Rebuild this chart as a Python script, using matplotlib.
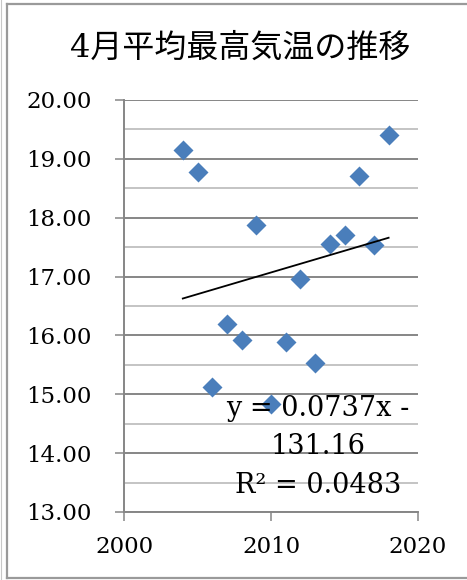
import numpy as np
import matplotlib
matplotlib.use("Agg")
import matplotlib.pyplot as plt
from matplotlib.ticker import MultipleLocator, FormatStrFormatter

# April mean daily maximum temperature by year
years = [2004, 2005, 2006, 2007, 2008, 2009, 2010, 2011, 2012, 2013, 2014, 2015, 2016, 2017, 2018]
temps = [19.15, 18.78, 15.12, 16.19, 15.92, 17.88, 14.831, 15.88, 16.96, 15.53, 17.56, 17.70, 18.71, 17.54, 19.40]
title = "4月平均最高気温の推移"

x = np.array(years, dtype=float)
y = np.array(temps)
slope, icept = np.polyfit(x, y, 1)
yfit = slope * x + icept
r2 = 1 - np.sum((y - yfit) ** 2) / np.sum((y - y.mean()) ** 2)

W, H = 467, 580
fig = plt.figure(figsize=(W / 100, H / 100), dpi=100)
fig.patch.set_facecolor("white")

# chart frame (right side runs off the image)
fig.add_artist(plt.Line2D([6.5 / W, 6.5 / W], [1 - 4 / H, 1 - 578 / H], color="#9a9a9a", lw=1.6))
fig.add_artist(plt.Line2D([6.5 / W, 1.0], [1 - 4 / H, 1 - 4 / H], color="#9a9a9a", lw=1.6))
fig.add_artist(plt.Line2D([6.5 / W, 1.0], [1 - 578 / H, 1 - 578 / H], color="#9a9a9a", lw=1.6))
fig.add_artist(plt.Line2D([1 / W, 1 / W], [0, 1], color="#c8c8c8", lw=0.8))

ax = fig.add_axes([124 / W, 1 - 512 / H, (418 - 124) / W, (512 - 100) / H])
ax.set_xlim(2000, 2020)
ax.set_ylim(13, 20)

serif = "DejaVu Serif"
ax.yaxis.set_major_locator(MultipleLocator(1))
ax.yaxis.set_minor_locator(MultipleLocator(0.5))
ax.yaxis.set_major_formatter(FormatStrFormatter("%.2f"))
ax.xaxis.set_major_locator(MultipleLocator(10))

ax.grid(axis="y", which="major", color="#868686", lw=1.4)
ax.grid(axis="y", which="minor", color="#c4c4c4", lw=1.4)
ax.set_axisbelow(True)

for s in ["top", "right"]:
    ax.spines[s].set_visible(False)
for s in ["left", "bottom"]:
    ax.spines[s].set_color("#868686")
    ax.spines[s].set_linewidth(1.4)

ax.tick_params(axis="y", which="major", direction="out", length=6.5, width=1.4,
               color="#a0a0a0", pad=17, labelsize=16.5)
ax.tick_params(axis="y", which="minor", length=0)
ax.tick_params(axis="x", which="major", direction="out", length=6.5, width=1.4,
               color="#a0a0a0", pad=11, labelsize=16.5)
for lab in ax.get_xticklabels() + ax.get_yticklabels():
    lab.set_fontfamily(serif)

ax.plot(x, y, linestyle="none", marker="D", ms=10.5, color="#4a7ebb", mec="none", zorder=3)
ax.plot([x.min(), x.max()], [slope * x.min() + icept, slope * x.max() + icept],
        color="black", lw=1.3, zorder=4)

sign = "-" if icept < 0 else "+"
eq = "y = %.4fx %s\n%.2f\nR² = %.4f" % (slope, sign, abs(icept), r2)
ax.text(0.66, 0.158, eq, transform=ax.transAxes, ha="center", va="center",
        fontsize=19.5, family=serif, linespacing=1.55, zorder=5)

fig.text(240 / W, 1 - 48 / H, title, ha="center", va="center", fontsize=23,
         family=[serif, "Noto Sans CJK JP"])

fig.savefig("out.png", dpi=100)
